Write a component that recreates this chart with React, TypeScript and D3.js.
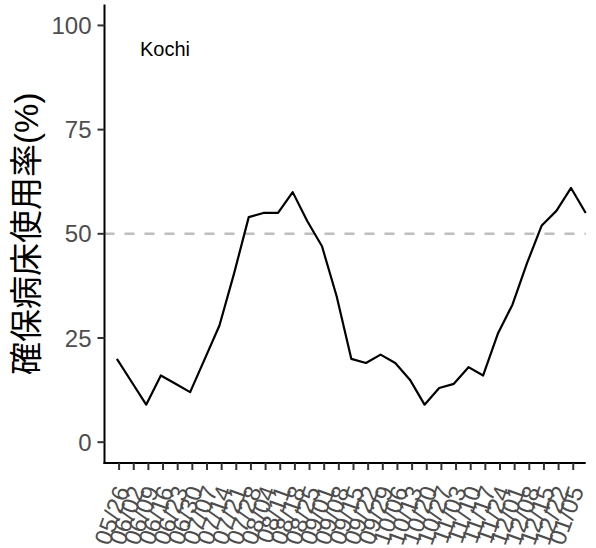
import React from "react";
import * as d3 from "d3";

const values: number[] = [20, 14.5, 9, 16, 14, 12, 20, 28, 40.5, 54, 55, 55, 60, 53, 47, 35, 20, 19, 21, 19, 15, 9, 13, 14, 18, 16, 26, 33, 43, 52, 55.5, 61, 55];
const tickLabels: string[] = ["05/26", "06/02", "06/09", "06/16", "06/23", "06/30", "07/07", "07/14", "07/21", "07/28", "08/04", "08/11", "08/18", "08/25", "09/01", "09/08", "09/15", "09/22", "09/29", "10/06", "10/13", "10/20", "10/27", "11/03", "11/10", "11/17", "11/24", "12/01", "12/08", "12/15", "12/22", "01/05"];
const yTicks: number[] = [0, 25, 50, 75, 100];
const refLine = 50;
const prefecture = "Kochi";
const yTitle = "確保病床使用率(%)";

const W = 596, H = 548;
const panel = { left: 104.5, right: 585.7, top: 4.6, bottom: 463 };

export default function App() {
  const x = d3.scaleLinear().domain([-0.846, values.length - 1]).range([panel.left, panel.right]);
  const y = d3.scaleLinear().domain([-5, 105]).range([panel.bottom, panel.top]);
  const line = d3.line<number>().x((_, i) => x(i)).y((d) => y(d));
  const tickOffset = 0.15;
  const gray = "#4D4D4D";
  const font = "'Liberation Sans', Arial, 'Noto Sans CJK JP', sans-serif";
  return (
    <svg width={W} height={H} style={{ position: "absolute", left: 0, top: 0, background: "#fff" }} fontFamily={font}>
      <rect width={W} height={H} fill="#fff" />
      {/* reference line */}
      <line x1={panel.left} x2={panel.right} y1={y(refLine)} y2={y(refLine)} stroke="#BEBEBE" strokeWidth={2.4} strokeDasharray="10,10" />
      {/* data line */}
      <path d={line(values) || ""} fill="none" stroke="#000" strokeWidth={2.2} strokeLinejoin="round" />
      {/* y axis */}
      <line x1={panel.left} x2={panel.left} y1={panel.top} y2={panel.bottom + 1} stroke="#000" strokeWidth={2} />
      {yTicks.map((t) => (
        <g key={t}>
          <line x1={panel.left - 7} x2={panel.left} y1={y(t)} y2={y(t)} stroke="#333" strokeWidth={2} />
          <text x={panel.left - 13} y={y(t)} dy="0.36em" textAnchor="end" fontSize={24} fill={gray}>{t}</text>
        </g>
      ))}
      {/* x axis */}
      <line x1={panel.left - 1} x2={panel.right} y1={panel.bottom} y2={panel.bottom} stroke="#000" strokeWidth={2} />
      {tickLabels.map((lab, i) => {
        const tx = x(i + tickOffset);
        return (
          <g key={lab + i}>
            <line x1={tx} x2={tx} y1={panel.bottom} y2={panel.bottom + 7} stroke="#333" strokeWidth={2} />
            <text transform={`translate(${tx + 11},${panel.bottom + 27}) rotate(-70)`} textAnchor="end" fontSize={24} fill={gray}>{lab}</text>
          </g>
        );
      })}
      {/* annotation */}
      <text x={140} y={55.5} fontSize={20} fill="#000">{prefecture}</text>
      {/* y title */}
      <text transform={`translate(26,${(panel.top + panel.bottom) / 2}) rotate(-90)`} textAnchor="middle" dominantBaseline="central" fontSize={33} fill="#000">{yTitle}</text>
    </svg>
  );
}
